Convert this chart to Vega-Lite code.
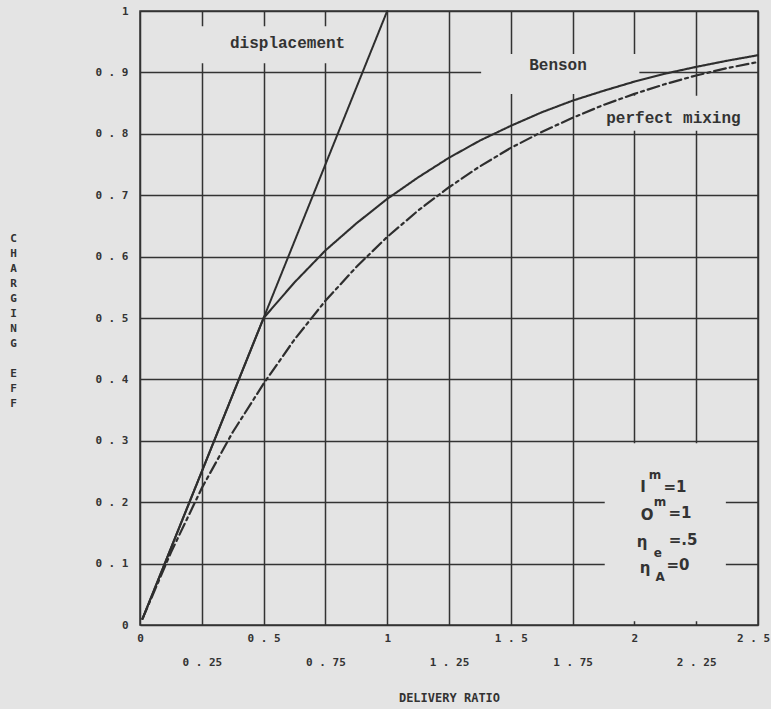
{
  "$schema": "https://vega.github.io/schema/vega-lite/v6.json",
  "autosize": {"type": "none"},
  "width": 618,
  "height": 614,
  "padding": {"left": 140, "top": 11, "right": 13, "bottom": 84},
  "background": "#e4e4e4",
  "config": {
    "view": {"stroke": "#333333", "strokeWidth": 1.5, "fill": "#e4e4e4"},
    "axis": {
      "domain": false,
      "ticks": false,
      "grid": true,
      "gridColor": "#333333",
      "gridWidth": 1.5,
      "gridOpacity": 1,
      "labelFont": "DejaVu Sans Mono",
      "labelFontWeight": "bold",
      "labelFontSize": 11,
      "labelColor": "#333333",
      "titleFont": "DejaVu Sans Mono",
      "titleFontWeight": "bold",
      "titleColor": "#333333"
    }
  },
  "datasets": {
    "curves": [
      {"x": 0.01, "y": 0.01, "series": "displacement"},
      {"x": 1.0, "y": 1.0, "series": "displacement"},
      {"x": 0.01, "y": 0.01, "series": "Benson"},
      {"x": 0.5, "y": 0.5, "series": "Benson"},
      {"x": 0.625, "y": 0.558, "series": "Benson"},
      {"x": 0.75, "y": 0.61, "series": "Benson"},
      {"x": 0.875, "y": 0.654, "series": "Benson"},
      {"x": 1.0, "y": 0.694, "series": "Benson"},
      {"x": 1.125, "y": 0.729, "series": "Benson"},
      {"x": 1.25, "y": 0.761, "series": "Benson"},
      {"x": 1.375, "y": 0.789, "series": "Benson"},
      {"x": 1.5, "y": 0.813, "series": "Benson"},
      {"x": 1.625, "y": 0.835, "series": "Benson"},
      {"x": 1.75, "y": 0.854, "series": "Benson"},
      {"x": 1.875, "y": 0.87, "series": "Benson"},
      {"x": 2.0, "y": 0.885, "series": "Benson"},
      {"x": 2.125, "y": 0.898, "series": "Benson"},
      {"x": 2.25, "y": 0.909, "series": "Benson"},
      {"x": 2.375, "y": 0.919, "series": "Benson"},
      {"x": 2.5, "y": 0.928, "series": "Benson"},
      {"x": 0.01, "y": 0.01, "series": "perfect mixing"},
      {"x": 0.125, "y": 0.118, "series": "perfect mixing"},
      {"x": 0.25, "y": 0.223, "series": "perfect mixing"},
      {"x": 0.375, "y": 0.314, "series": "perfect mixing"},
      {"x": 0.5, "y": 0.393, "series": "perfect mixing"},
      {"x": 0.625, "y": 0.465, "series": "perfect mixing"},
      {"x": 0.75, "y": 0.528, "series": "perfect mixing"},
      {"x": 0.875, "y": 0.583, "series": "perfect mixing"},
      {"x": 1.0, "y": 0.632, "series": "perfect mixing"},
      {"x": 1.125, "y": 0.675, "series": "perfect mixing"},
      {"x": 1.25, "y": 0.713, "series": "perfect mixing"},
      {"x": 1.375, "y": 0.747, "series": "perfect mixing"},
      {"x": 1.5, "y": 0.777, "series": "perfect mixing"},
      {"x": 1.625, "y": 0.803, "series": "perfect mixing"},
      {"x": 1.75, "y": 0.826, "series": "perfect mixing"},
      {"x": 1.875, "y": 0.847, "series": "perfect mixing"},
      {"x": 2.0, "y": 0.865, "series": "perfect mixing"},
      {"x": 2.125, "y": 0.881, "series": "perfect mixing"},
      {"x": 2.25, "y": 0.895, "series": "perfect mixing"},
      {"x": 2.375, "y": 0.907, "series": "perfect mixing"},
      {"x": 2.5, "y": 0.917, "series": "perfect mixing"}
    ],
    "gaps": [
      {"x": 0.2, "x2": 0.9, "y": 0.915, "y2": 0.975},
      {"x": 1.38, "x2": 2.02, "y": 0.865, "y2": 0.93},
      {"x": 1.93, "x2": 2.47, "y": 0.805, "y2": 0.862},
      {"x": 1.88, "x2": 2.37, "y": 0.006, "y2": 0.296}
    ],
    "curveLabels": [
      {"x": 0.597, "y": 0.948, "text": "displacement"},
      {"x": 1.691, "y": 0.912, "text": "Benson"},
      {"x": 2.158, "y": 0.826, "text": "perfect mixing"}
    ],
    "params": [
      {"x": 2.035, "y": 0.225, "text": "I", "kind": "main"},
      {"x": 2.164, "y": 0.225, "text": "=1", "kind": "main"},
      {"x": 2.051, "y": 0.179, "text": "O", "kind": "main"},
      {"x": 2.184, "y": 0.182, "text": "=1", "kind": "main"},
      {"x": 2.031, "y": 0.135, "text": "η", "kind": "main"},
      {"x": 2.197, "y": 0.138, "text": "=.5", "kind": "main"},
      {"x": 2.043, "y": 0.093, "text": "η", "kind": "main"},
      {"x": 2.176, "y": 0.098, "text": "=0", "kind": "main"},
      {"x": 2.083, "y": 0.244, "text": "m", "kind": "script"},
      {"x": 2.104, "y": 0.2, "text": "m", "kind": "script"},
      {"x": 2.095, "y": 0.117, "text": "e", "kind": "script"},
      {"x": 2.104, "y": 0.078, "text": "A", "kind": "script"}
    ]
  },
  "layer": [
    {
      "data": {"name": "gaps"},
      "mark": {"type": "rect", "fill": "#e4e4e4", "stroke": null},
      "encoding": {
        "x": {
          "field": "x", "type": "quantitative",
          "scale": {"domain": [0, 2.5], "nice": false, "zero": false},
          "axis": {
            "values": [0, 0.25, 0.5, 0.75, 1, 1.25, 1.5, 1.75, 2, 2.25, 2.5],
            "labelExpr": "replace(format(datum.value, '~g'), '.', ' . ')",
            "labelFlush": false,
            "labelOverlap": false,
            "labelBaseline": "top",
            "labelPadding": {"condition": {"test": "(datum.value * 4) % 2 == 1", "value": 31}, "value": 7},
            "labelOffset": {"condition": {"test": "datum.value == 2.5", "value": -5}, "value": 0},
            "title": "DELIVERY RATIO",
            "titleFontSize": 12,
            "titleX": 309,
            "titleY": 72,
            "titleBaseline": "middle",
            "titleAlign": "center"
          }
        },
        "x2": {"field": "x2"},
        "y": {
          "field": "y", "type": "quantitative",
          "scale": {"domain": [0, 1], "nice": false, "zero": false},
          "axis": {
            "values": [0, 0.1, 0.2, 0.3, 0.4, 0.5, 0.6, 0.7, 0.8, 0.9, 1],
            "labelExpr": "replace(format(datum.value, '~g'), '.', ' . ')",
            "labelPadding": 12,
            "labelFlush": false,
            "labelOverlap": false,
            "title": ["C", "H", "A", "R", "G", "I", "N", "G", "\u200b", "E", "F", "F"],
            "titleAngle": 0,
            "titleFontSize": 11,
            "titleX": -127,
            "titleY": 221,
            "titleAlign": "center",
            "titleBaseline": "top",
            "titleLineHeight": 15
          }
        },
        "y2": {"field": "y2"}
      }
    },
    {
      "data": {"name": "curves"},
      "mark": {"type": "line", "color": "#2e2e2e", "strokeCap": "round"},
      "encoding": {
        "x": {"field": "x", "type": "quantitative"},
        "y": {"field": "y", "type": "quantitative"},
        "strokeDash": {
          "field": "series", "type": "nominal",
          "scale": {"domain": ["displacement", "Benson", "perfect mixing"], "range": [[1, 0], [1, 0], [12, 4, 3, 4]]},
          "legend": null
        },
        "strokeWidth": {
          "field": "series", "type": "nominal",
          "scale": {"domain": ["displacement", "Benson", "perfect mixing"], "range": [2, 2.2, 1.5]},
          "legend": null
        }
      }
    },
    {
      "data": {"name": "curveLabels"},
      "mark": {"type": "text", "font": "Liberation Mono", "fontWeight": "bold", "fontSize": 16, "color": "#333333", "align": "center", "baseline": "middle"},
      "encoding": {
        "x": {"field": "x", "type": "quantitative"},
        "y": {"field": "y", "type": "quantitative"},
        "text": {"field": "text"}
      }
    },
    {
      "data": {"name": "params"},
      "mark": {"type": "text", "font": "DejaVu Sans", "fontWeight": "bold", "color": "#333333", "align": "center", "baseline": "middle"},
      "encoding": {
        "x": {"field": "x", "type": "quantitative"},
        "y": {"field": "y", "type": "quantitative"},
        "text": {"field": "text"},
        "size": {
          "field": "kind", "type": "nominal",
          "scale": {"domain": ["main", "script"], "range": [15, 12]},
          "legend": null
        }
      }
    }
  ]
}
